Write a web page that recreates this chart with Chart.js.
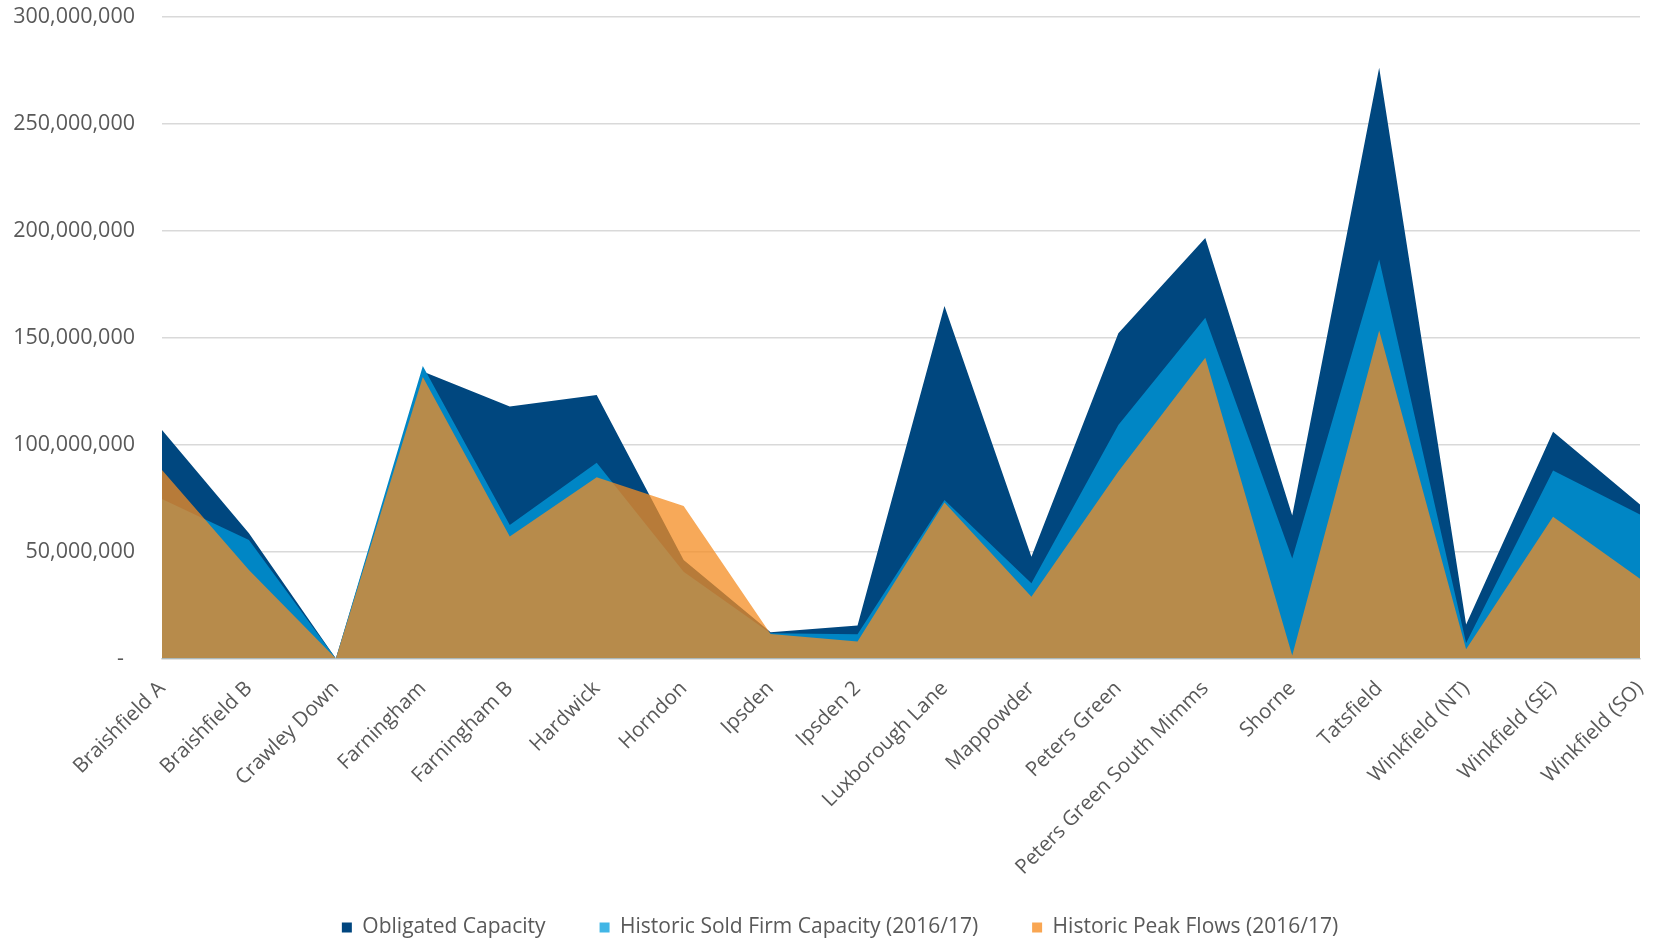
<!DOCTYPE html>
<html>
<head>
<meta charset="utf-8">
<script src="https://cdn.jsdelivr.net/npm/chart.js@4.4.1/dist/chart.umd.min.js"></script>
<style>
  html, body { margin: 0; padding: 0; background: #ffffff; }
  #wrap { width: 1665px; height: 940px; position: relative; }
</style>
</head>
<body>
<div id="wrap"><canvas id="c" width="1665" height="940"></canvas></div>
<script>
const categories = ["Braishfield A","Braishfield B","Crawley Down","Farningham","Farningham B","Hardwick","Horndon","Ipsden","Ipsden 2","Luxborough Lane","Mappowder","Peters Green","Peters Green South Mimms","Shorne","Tatsfield","Winkfield (NT)","Winkfield (SE)","Winkfield (SO)"];
const obligatedCapacity = [106900000, 58600000, 0, 134200000, 117800000, 123200000, 46100000, 12300000, 15400000, 164900000, 47600000, 152100000, 196700000, 66900000, 276300000, 15900000, 106000000, 72000000];
const historicSoldFirm = [74600000, 55400000, 0, 136800000, 62400000, 91600000, 40600000, 11800000, 11300000, 74100000, 35200000, 109200000, 159400000, 46800000, 186600000, 7200000, 87900000, 67300000];
const historicPeakFlows = [88200000, 41400000, 0, 131700000, 57000000, 84800000, 71300000, 11500000, 7900000, 72900000, 28900000, 87400000, 140700000, 1400000, 153400000, 4300000, 66300000, 37300000];
const seriesNames = ["Obligated Capacity", "Historic Sold Firm Capacity (2016/17)", "Historic Peak Flows (2016/17)"];
const yTicks = [0, 50000000, 100000000, 150000000, 200000000, 250000000, 300000000];

const FONT = "'Open Sans', 'Liberation Sans', sans-serif";
const legendSwatch = ["#00467F", "#41B6E6", "#F9A652"];

const legendShift = {
  id: 'legendShift',
  afterLayout(chart) {
    if (chart.legend) { chart.legend.left += 20; chart.legend.right += 20; }
  }
};

new Chart(document.getElementById('c'), {
  type: 'line',
  plugins: [legendShift],
  data: {
    labels: categories,
    datasets: [
      { label: seriesNames[0], data: obligatedCapacity, backgroundColor: '#00477F', borderColor: 'rgba(0,0,0,0)', borderWidth: 0, fill: 'origin', pointRadius: 0, tension: 0, order: 3 },
      { label: seriesNames[1], data: historicSoldFirm, backgroundColor: '#0086C5', borderColor: 'rgba(0,0,0,0)', borderWidth: 0, fill: 'origin', pointRadius: 0, tension: 0, order: 2 },
      { label: seriesNames[2], data: historicPeakFlows, backgroundColor: 'rgba(244,140,33,0.75)', borderColor: 'rgba(0,0,0,0)', borderWidth: 0, fill: 'origin', pointRadius: 0, tension: 0, order: 1 }
    ]
  },
  options: {
    responsive: false,
    devicePixelRatio: 1,
    animation: false,
    layout: { padding: { top: 17, right: 25, left: 0, bottom: -8 } },
    plugins: {
      tooltip: { enabled: false },
      legend: {
        position: 'bottom',
        labels: {
          boxWidth: 10, boxHeight: 10, padding: 54,
          color: '#595959',
          font: { family: FONT, size: 21 },
          generateLabels: (chart) => chart.data.datasets.map((ds, i) => ({
            text: ds.label, fillStyle: legendSwatch[i], strokeStyle: legendSwatch[i], lineWidth: 0, datasetIndex: i, fontColor: '#595959'
          }))
        }
      }
    },
    scales: {
      x: {
        offset: false,
        grid: { display: false, drawTicks: false },
        border: { display: true, color: '#D9D9D9', width: 1.5 },
        ticks: { autoSkip: false, maxRotation: 45, minRotation: 45, padding: 18, color: '#595959', font: { family: FONT, size: 20.5 } },
        afterFit: (s) => {
          s.height = 204.5;
          s.paddingLeft = 0; s.paddingRight = 0;
          s._computeLabelArea = () => undefined;
        }
      },
      y: {
        min: 0, max: 300000000,
        afterBuildTicks: (s) => { s.ticks = yTicks.map(v => ({ value: v })); },
        grid: { color: '#D9D9D9', lineWidth: 1.5, drawTicks: false },
        border: { display: false },
        ticks: {
          padding: 27, color: '#595959', font: { family: FONT, size: 21.5 },
          callback: (v) => v === 0 ? '-  ' : Number(v).toLocaleString('en-US')
        },
        afterFit: (s) => { s.width = 162; s.paddingTop = 0; s.paddingBottom = 0; }
      }
    }
  }
});
</script>
</body>
</html>
